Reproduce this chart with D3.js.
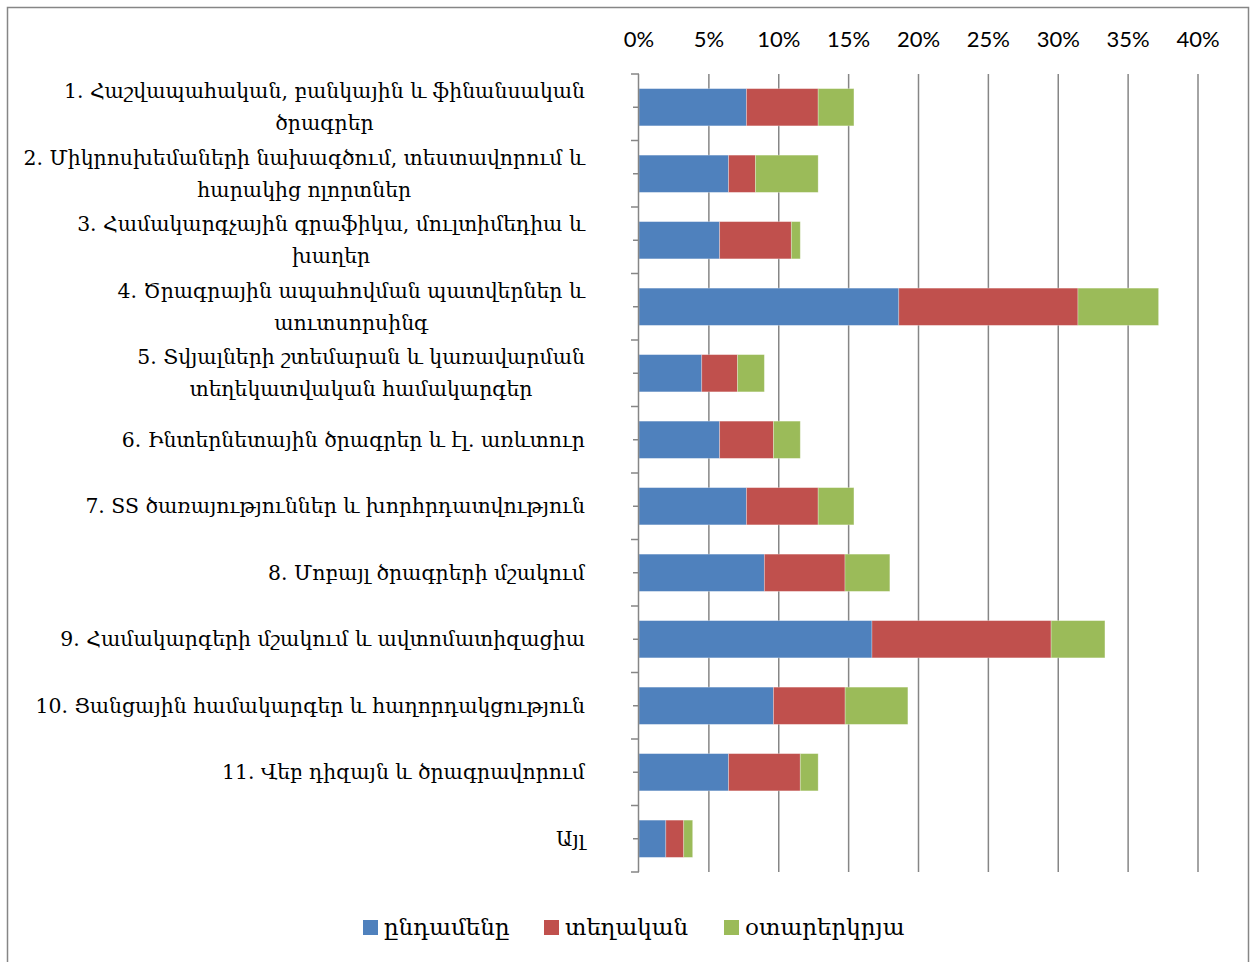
<!DOCTYPE html>
<html>
<head>
<meta charset="utf-8">
<script src="https://cdn.jsdelivr.net/npm/d3@7"></script>
<style>
  body { margin: 0; background: #fff; }
  svg { display: block; }
</style>
</head>
<body>
<svg id="chart" width="1250" height="962"></svg>
<script>
// categories, each split into the lines shown in the picture
const categories = [
  ["1. Հաշվապահական, բանկային և ֆինանսական", "ծրագրեր"],
  ["2. Միկրոսխեմաների նախագծում, տեստավորում և", "հարակից ոլորտներ"],
  ["3. Համակարգչային գրաֆիկա, մուլտիմեդիա և", "խաղեր"],
  ["4. Ծրագրային ապահովման պատվերներ և", "աուտսորսինգ"],
  ["5. Տվյալների շտեմարան և կառավարման", "տեղեկատվական համակարգեր"],
  ["6. Ինտերնետային ծրագրեր և էլ. առևտուր"],
  ["7. SS ծառայություններ և խորհրդատվություն"],
  ["8. Մոբայլ ծրագրերի մշակում"],
  ["9. Համակարգերի մշակում և ավտոմատիզացիա"],
  ["10. Ցանցային համակարգեր և հաղորդակցություն"],
  ["11. Վեբ դիզայն և ծրագրավորում"],
  ["Այլ"]
];
const seriesNames = ["ընդամենը", "տեղական", "օտարերկրյա"];
const totalValues   = [7.69, 6.41, 5.77, 18.59, 4.49, 5.77, 7.69, 8.97, 16.67, 9.62, 6.41, 1.92];
const localValues   = [5.13, 1.92, 5.13, 12.82, 2.56, 3.85, 5.13, 5.77, 12.82, 5.13, 5.13, 1.28];
const foreignValues = [2.56, 4.49, 0.64, 5.77, 1.92, 1.92, 2.56, 3.21, 3.85, 4.49, 1.28, 0.64];
const tickValues = [0, 5, 10, 15, 20, 25, 30, 35, 40];

const colors = ["#4F81BD", "#C0504D", "#9BBB59"];
const gridColor = "#868686";
const armFont = "'DejaVu Serif', serif";
const numFont = "Lato, 'Liberation Sans', sans-serif";

const svg = d3.select("#chart");

// outer frame
svg.append("rect")
  .attr("x", 7.5).attr("y", 7.5)
  .attr("width", 1241).attr("height", 1000)
  .attr("fill", "none")
  .attr("stroke", gridColor)
  .attr("stroke-width", 1.5);

const keys = categories.map((c, i) => i);
const x = d3.scaleLinear().domain([0, 40]).range([639, 1198]);
const y = d3.scaleBand().domain(keys).range([74, 872]).paddingInner(0.44).paddingOuter(0.22);

const rows = keys.map(i => ({ i, v: [totalValues[i], localValues[i], foreignValues[i]] }));
const stack = d3.stack().keys([0, 1, 2]).value((d, k) => d.v[k]);
const layers = stack(rows);

// vertical gridlines
svg.append("g")
  .selectAll("line")
  .data(tickValues.slice(1))
  .join("line")
  .attr("x1", d => x(d)).attr("x2", d => x(d))
  .attr("y1", 74).attr("y2", 872)
  .attr("stroke", gridColor)
  .attr("stroke-width", 1.5);

// top tick labels
svg.append("g")
  .selectAll("text")
  .data(tickValues)
  .join("text")
  .attr("x", d => x(d))
  .attr("y", 47)
  .attr("text-anchor", "middle")
  .attr("font-family", numFont)
  .attr("font-size", 22)
  .attr("fill", "#000")
  .text(d => d + "%");

// stacked bars
svg.append("g")
  .selectAll("g")
  .data(layers)
  .join("g")
  .attr("fill", (d, k) => colors[k])
  .selectAll("rect")
  .data(d => d)
  .join("rect")
  .attr("x", d => x(d[0]))
  .attr("y", d => y(d.data.i))
  .attr("width", d => x(d[1]) - x(d[0]))
  .attr("height", y.bandwidth())
  .attr("stroke", "rgba(255,255,255,0.35)")
  .attr("stroke-width", 0.8);

// category axis: boundary ticks + center ticks
const step = y.step();
const bounds = d3.range(categories.length + 1).map(k => 74 + k * step);
const axis = svg.append("g");
axis.selectAll("line.b")
  .data(bounds)
  .join("line")
  .attr("class", "b")
  .attr("x1", 631).attr("x2", 639)
  .attr("y1", d => d).attr("y2", d => d)
  .attr("stroke", gridColor).attr("stroke-width", 1.5);
axis.selectAll("line.c")
  .data(keys)
  .join("line")
  .attr("class", "c")
  .attr("x1", 633).attr("x2", 639)
  .attr("y1", d => y(d) + y.bandwidth() / 2).attr("y2", d => y(d) + y.bandwidth() / 2)
  .attr("stroke", gridColor).attr("stroke-width", 1.5);
axis.append("line")
  .attr("x1", 638.5).attr("x2", 638.5)
  .attr("y1", 74).attr("y2", 872)
  .attr("stroke", gridColor).attr("stroke-width", 1.5);

// category labels, lines centred within a right-aligned block
const labelRight = 585, lineH = 32;
const labels = svg.append("g");
categories.forEach((lines, i) => {
  const cy = y(i) + y.bandwidth() / 2;
  const g = labels.append("g");
  const texts = lines.map((ln, j) => g.append("text")
    .attr("y", cy + (j - (lines.length - 1) / 2) * lineH)
    .attr("dy", "0.35em")
    .attr("text-anchor", "middle")
    .attr("font-family", armFont)
    .attr("font-size", 20.4)
    .attr("fill", "#000")
    .text(ln));
  const w = d3.max(texts, t => t.node().getComputedTextLength());
  texts.forEach(t => t.attr("x", labelRight - w / 2));
});

// legend
const legendX = [363, 544, 724];
const legend = svg.append("g");
seriesNames.forEach((name, k) => {
  legend.append("rect")
    .attr("x", legendX[k]).attr("y", 920)
    .attr("width", 15).attr("height", 15)
    .attr("fill", colors[k]);
  legend.append("text")
    .attr("x", legendX[k] + 21).attr("y", 927)
    .attr("dy", "0.35em")
    .attr("font-family", armFont)
    .attr("font-size", 23)
    .attr("fill", "#000")
    .text(name);
});
</script>
</body>
</html>
